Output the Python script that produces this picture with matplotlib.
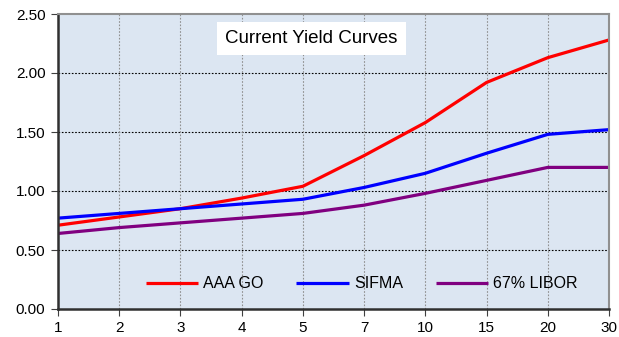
import matplotlib
matplotlib.use("Agg")
import matplotlib.pyplot as plt

plt.rcParams['font.family'] = ['Liberation Sans', 'DejaVu Sans']

maturities = ["1", "2", "3", "4", "5", "7", "10", "15", "20", "30"]
aaa_go = [0.71, 0.78, 0.85, 0.94, 1.04, 1.30, 1.58, 1.92, 2.13, 2.28]
sifma = [0.77, 0.81, 0.85, 0.89, 0.93, 1.03, 1.15, 1.32, 1.48, 1.52]
libor67 = [0.64, 0.69, 0.73, 0.77, 0.81, 0.88, 0.98, 1.09, 1.20, 1.20]
y_ticks = [0.0, 0.5, 1.0, 1.5, 2.0, 2.5]

fig = plt.figure(figsize=(6.19, 3.37), dpi=100)
ax = fig.add_axes([58 / 619, 1 - 309 / 337, (609 - 58) / 619, (309 - 14) / 337])
ax.set_facecolor("#DCE6F2")

x = list(range(len(maturities)))
ax.plot(x, aaa_go, color="#FF0000", lw=2.3, label="AAA GO", solid_capstyle="butt")
ax.plot(x, sifma, color="#0000FF", lw=2.3, label="SIFMA", solid_capstyle="butt")
ax.plot(x, libor67, color="#800080", lw=2.3, label="67% LIBOR", solid_capstyle="butt")

ax.set_xlim(0, len(maturities) - 1)
ax.set_ylim(0, 2.5)
ax.set_xticks(x)
ax.set_xticklabels(maturities)
ax.set_yticks(y_ticks)
ax.set_yticklabels([f"{v:.2f}" for v in y_ticks])
ax.tick_params(labelsize=11, length=5, color="#404040", pad=4)
ax.tick_params(axis="x", direction="out")

for yv in y_ticks[1:-1]:
    ax.axhline(yv, color="#000000", lw=0.8, ls=(0, (1.5, 1.5)), zorder=1)
for xv in x[1:-1]:
    ax.axvline(xv, color="#909090", lw=0.8, ls=(0, (1.5, 1.5)), zorder=1)

for side in ("left", "bottom"):
    ax.spines[side].set_color("#303030")
    ax.spines[side].set_linewidth(1.8)
for side in ("top", "right"):
    ax.spines[side].set_color("#909090")
    ax.spines[side].set_linewidth(1.5)

ax.text(0.46, 0.917, "Current Yield Curves", transform=ax.transAxes,
        ha="center", va="center", fontsize=13.5,
        bbox=dict(facecolor="white", edgecolor="none", boxstyle="square,pad=0.45"))

ax.legend(loc="center", bbox_to_anchor=(0.551, 0.085), ncol=3, frameon=False,
          fontsize=11.5, handlelength=3.3, columnspacing=2.05, handletextpad=0.3,
          borderpad=0)

fig.savefig("out.png", dpi=100)
